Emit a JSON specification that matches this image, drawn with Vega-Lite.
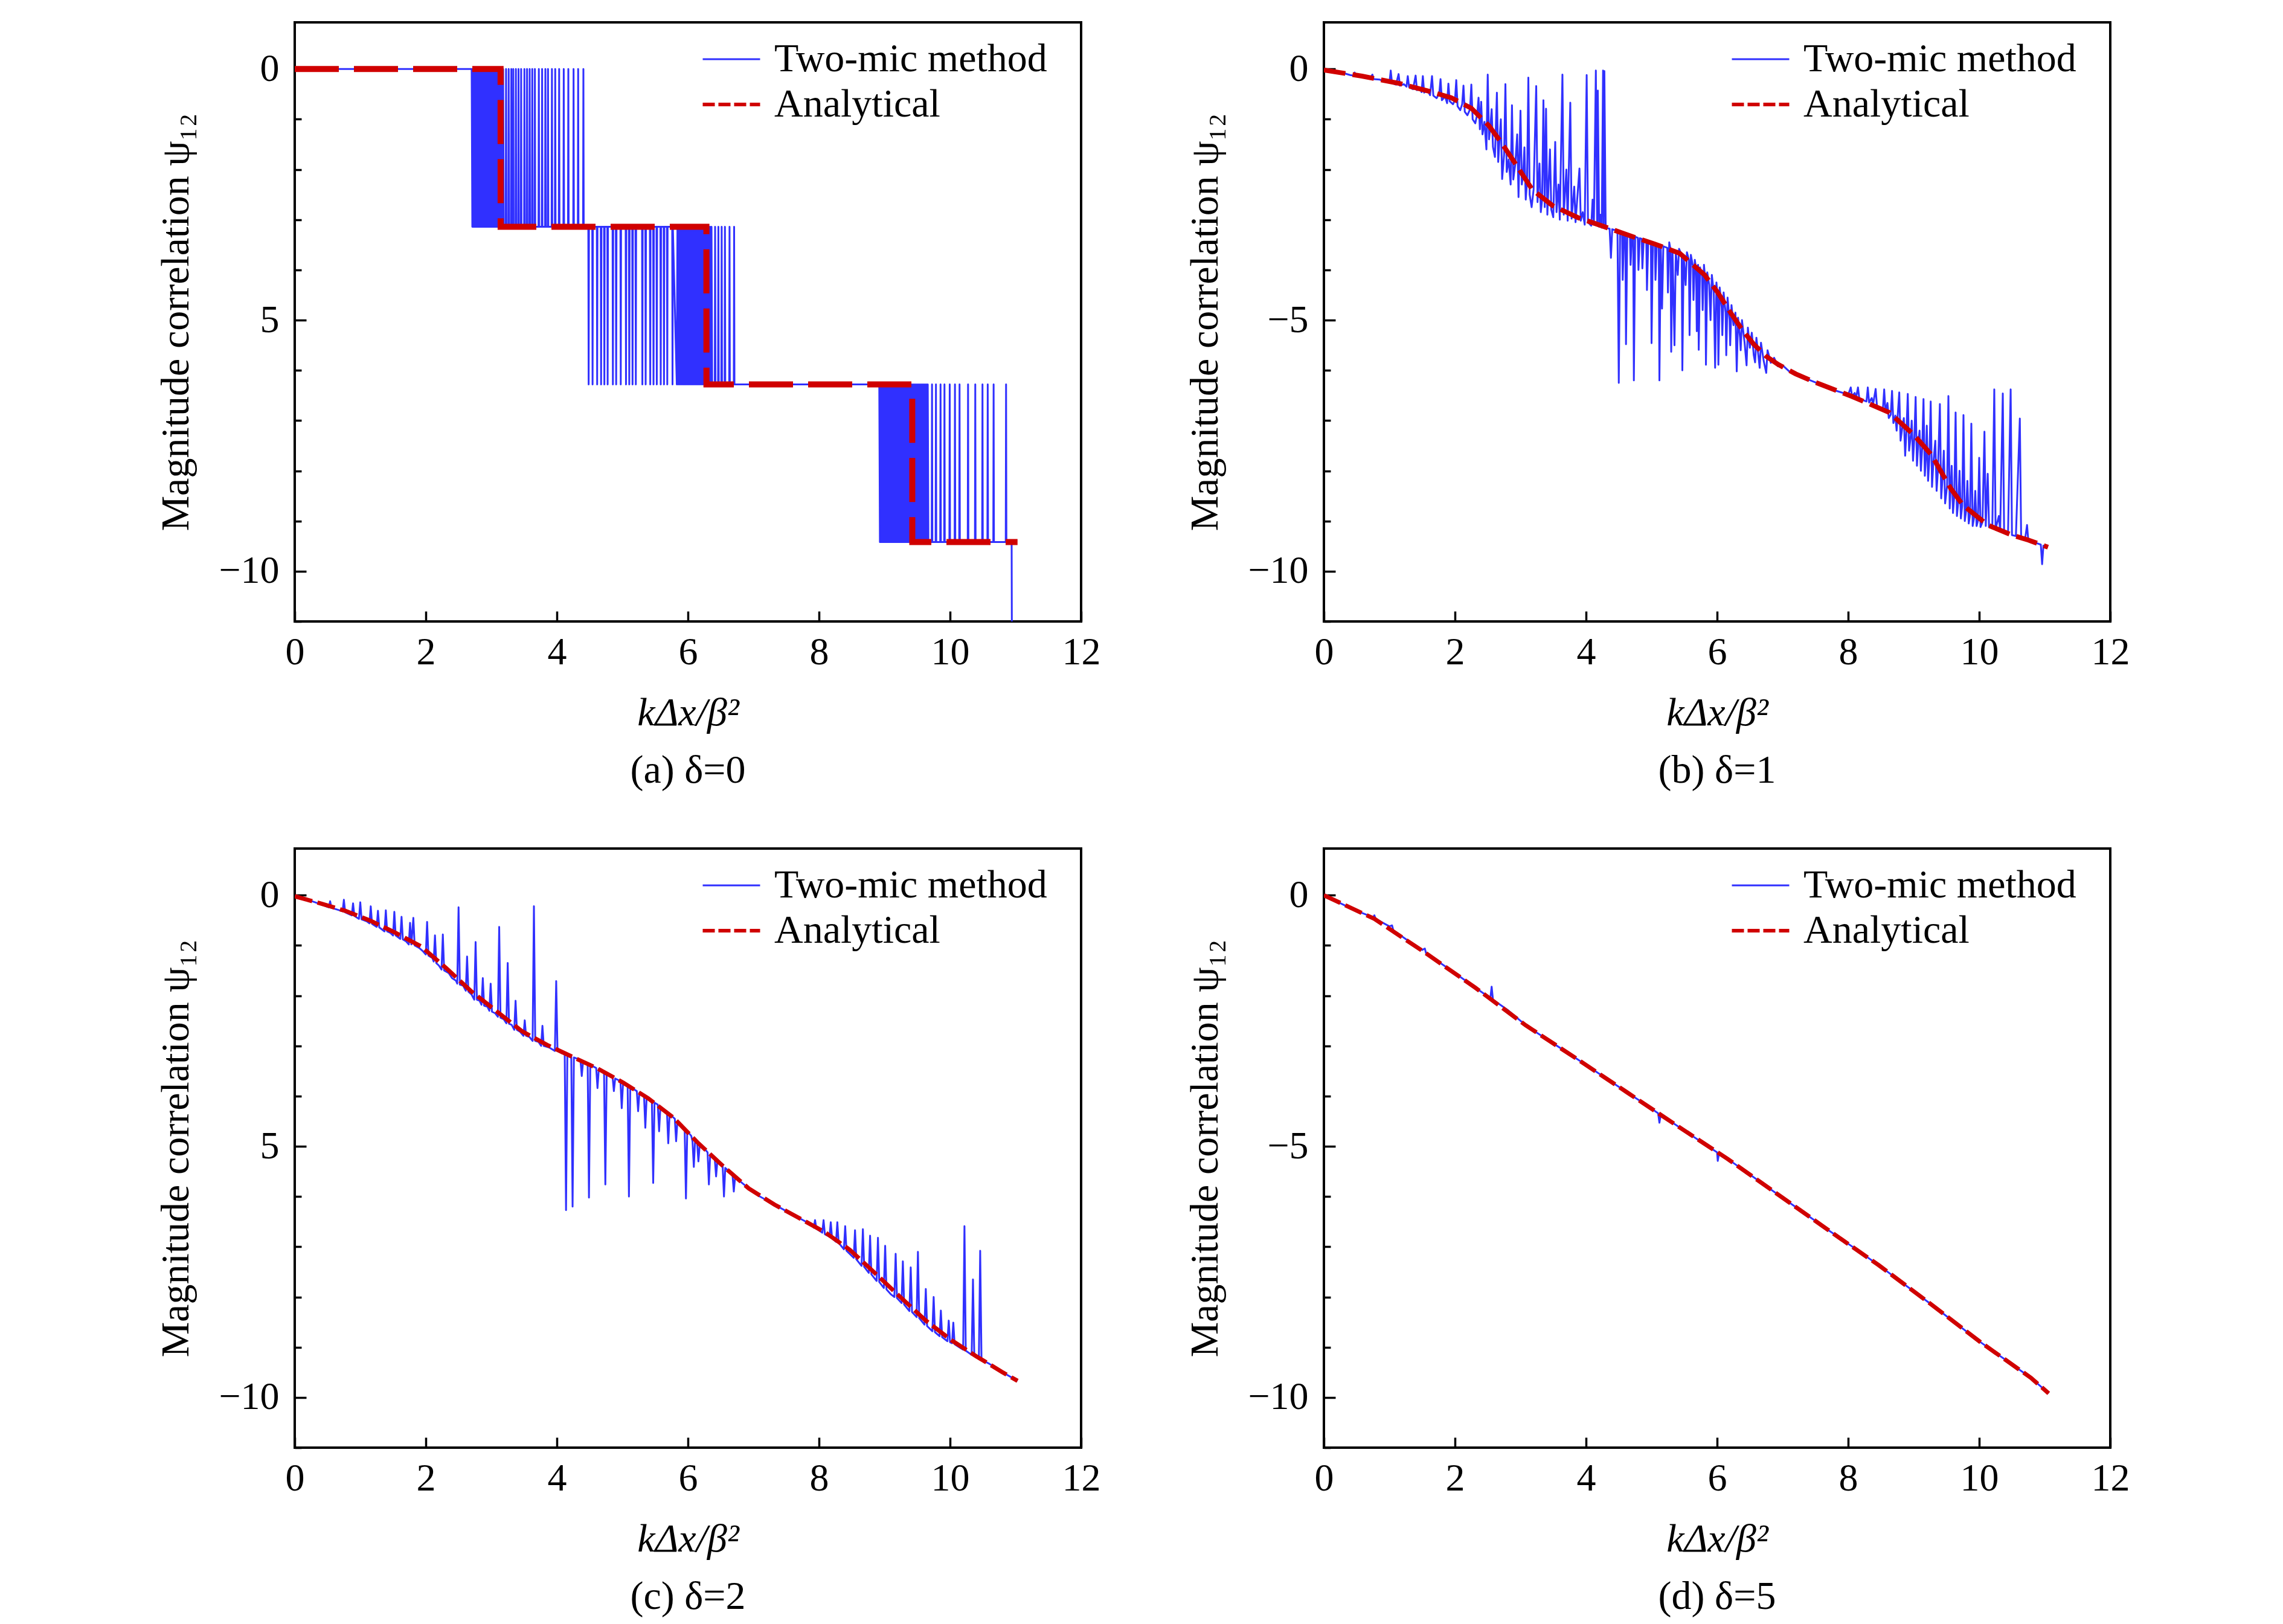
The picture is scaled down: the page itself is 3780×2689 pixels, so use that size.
{
  "$schema": "https://vega.github.io/schema/vega-lite/v6.json",
  "background": "white",
  "padding": {"left": 256, "top": 35, "right": 10, "bottom": 10},
  "config": {
    "font": "Liberation Serif",
    "view": {"stroke": "black", "strokeWidth": 4},
    "axis": {"grid": false, "domain": false, "labelFont": "Liberation Serif", "labelFontSize": 64, "labelColor": "black", "labelFlush": false, "labelOverlap": false, "titleFont": "Liberation Serif", "titleFontSize": 66, "titleFontWeight": "normal", "titleColor": "black", "tickColor": "black", "tickWidth": 3.5},
    "axisX": {"tickSize": -17, "labelPadding": 36, "titlePadding": 36, "titleFontStyle": "italic"},
    "axisY": {"labelPadding": 45, "titlePadding": 36},
    "legend": {"symbolType": "stroke", "symbolSize": 9025, "labelFont": "Liberation Serif", "labelFontSize": 66, "labelColor": "black", "labelOffset": 38, "labelLimit": 1000, "padding": 0},
    "title": {"font": "Liberation Serif", "fontSize": 66, "fontWeight": "normal", "color": "black", "orient": "bottom", "offset": 31}
  },
  "datasets": {
    "aT": [{"x":0,"y":0},{"x":2.7,"y":0},
      {"x":2.71,"y":-3.14},{"x":2.72,"y":0},{"x":2.73,"y":-3.14},{"x":2.74,"y":0},{"x":2.75,"y":-3.14},{"x":2.76,"y":0},{"x":2.77,"y":-3.14},{"x":2.78,"y":0},{"x":2.79,"y":-3.14},{"x":2.8,"y":0},{"x":2.81,"y":-3.14},{"x":2.82,"y":0},{"x":2.83,"y":-3.14},{"x":2.84,"y":0},{"x":2.85,"y":-3.14},{"x":2.86,"y":0},{"x":2.87,"y":-3.14},{"x":2.88,"y":0},{"x":2.89,"y":-3.14},{"x":2.9,"y":0},{"x":2.91,"y":-3.14},{"x":2.92,"y":0},{"x":2.93,"y":-3.14},{"x":2.94,"y":0},{"x":2.95,"y":-3.14},{"x":2.96,"y":0},{"x":2.97,"y":-3.14},{"x":2.98,"y":0},{"x":2.99,"y":-3.14},{"x":3,"y":0},{"x":3.01,"y":-3.14},{"x":3.02,"y":0},{"x":3.03,"y":-3.14},{"x":3.04,"y":0},{"x":3.05,"y":-3.14},{"x":3.06,"y":0},{"x":3.07,"y":-3.14},{"x":3.08,"y":0},{"x":3.09,"y":-3.14},{"x":3.1,"y":0},{"x":3.11,"y":-3.14},{"x":3.12,"y":0},{"x":3.13,"y":-3.14},{"x":3.14,"y":0},{"x":3.15,"y":-3.14},{"x":3.16,"y":0},{"x":3.17,"y":-3.14},{"x":3.18,"y":0},{"x":3.19,"y":-3.14},
      {"x":3.22,"y":-3.14},{"x":3.225,"y":0},{"x":3.23,"y":-3.14},{"x":3.26,"y":-3.14},{"x":3.265,"y":0},{"x":3.27,"y":-3.14},{"x":3.3,"y":-3.14},{"x":3.305,"y":0},{"x":3.31,"y":-3.14},{"x":3.33,"y":-3.14},{"x":3.335,"y":0},{"x":3.34,"y":-3.14},{"x":3.37,"y":-3.14},{"x":3.375,"y":0},{"x":3.38,"y":-3.14},{"x":3.41,"y":-3.14},{"x":3.415,"y":0},{"x":3.42,"y":-3.14},{"x":3.45,"y":-3.14},{"x":3.455,"y":0},{"x":3.46,"y":-3.14},{"x":3.5,"y":-3.14},{"x":3.505,"y":0},{"x":3.51,"y":-3.14},{"x":3.54,"y":-3.14},{"x":3.545,"y":0},{"x":3.55,"y":-3.14},{"x":3.58,"y":-3.14},{"x":3.585,"y":0},{"x":3.59,"y":-3.14},{"x":3.62,"y":-3.14},{"x":3.625,"y":0},{"x":3.63,"y":-3.14},{"x":3.66,"y":-3.14},{"x":3.665,"y":0},{"x":3.67,"y":-3.14},{"x":3.72,"y":-3.14},{"x":3.725,"y":0},{"x":3.73,"y":-3.14},{"x":3.77,"y":-3.14},{"x":3.775,"y":0},{"x":3.78,"y":-3.14},{"x":3.82,"y":-3.14},{"x":3.825,"y":0},{"x":3.83,"y":-3.14},{"x":3.86,"y":-3.14},{"x":3.865,"y":0},{"x":3.87,"y":-3.14},{"x":3.92,"y":-3.14},{"x":3.925,"y":0},{"x":3.93,"y":-3.14},{"x":3.97,"y":-3.14},{"x":3.975,"y":0},{"x":3.98,"y":-3.14},{"x":4.03,"y":-3.14},{"x":4.035,"y":0},{"x":4.04,"y":-3.14},{"x":4.1,"y":-3.14},{"x":4.105,"y":0},{"x":4.11,"y":-3.14},{"x":4.17,"y":-3.14},{"x":4.175,"y":0},{"x":4.18,"y":-3.14},{"x":4.25,"y":-3.14},{"x":4.255,"y":0},{"x":4.26,"y":-3.14},{"x":4.32,"y":-3.14},{"x":4.325,"y":0},{"x":4.33,"y":-3.14},{"x":4.4,"y":-3.14},{"x":4.405,"y":0},{"x":4.41,"y":-3.14},
      {"x":4.48,"y":-3.14},{"x":4.485,"y":-6.28},{"x":4.49,"y":-3.14},{"x":4.54,"y":-3.14},{"x":4.545,"y":-6.28},{"x":4.55,"y":-3.14},{"x":4.61,"y":-3.14},{"x":4.615,"y":-6.28},{"x":4.62,"y":-3.14},{"x":4.67,"y":-3.14},{"x":4.675,"y":-6.28},{"x":4.68,"y":-3.14},{"x":4.72,"y":-3.14},{"x":4.725,"y":-6.28},{"x":4.73,"y":-3.14},{"x":4.77,"y":-3.14},{"x":4.775,"y":-6.28},{"x":4.78,"y":-3.14},{"x":4.85,"y":-3.14},{"x":4.855,"y":-6.28},{"x":4.86,"y":-3.14},{"x":4.9,"y":-3.14},{"x":4.905,"y":-6.28},{"x":4.91,"y":-3.14},{"x":4.97,"y":-3.14},{"x":4.975,"y":-6.28},{"x":4.98,"y":-3.14},{"x":5.05,"y":-3.14},{"x":5.055,"y":-6.28},{"x":5.06,"y":-3.14},{"x":5.1,"y":-3.14},{"x":5.105,"y":-6.28},{"x":5.11,"y":-3.14},{"x":5.15,"y":-3.14},{"x":5.155,"y":-6.28},{"x":5.16,"y":-3.14},{"x":5.2,"y":-3.14},{"x":5.205,"y":-6.28},{"x":5.21,"y":-3.14},{"x":5.3,"y":-3.14},{"x":5.305,"y":-6.28},{"x":5.31,"y":-3.14},{"x":5.35,"y":-3.14},{"x":5.355,"y":-6.28},{"x":5.36,"y":-3.14},{"x":5.42,"y":-3.14},{"x":5.425,"y":-6.28},{"x":5.43,"y":-3.14},{"x":5.47,"y":-3.14},{"x":5.475,"y":-6.28},{"x":5.48,"y":-3.14},{"x":5.52,"y":-3.14},{"x":5.525,"y":-6.28},{"x":5.53,"y":-3.14},{"x":5.58,"y":-3.14},{"x":5.585,"y":-6.28},{"x":5.59,"y":-3.14},{"x":5.63,"y":-3.14},{"x":5.635,"y":-6.28},{"x":5.64,"y":-3.14},{"x":5.68,"y":-3.14},{"x":5.685,"y":-6.28},{"x":5.69,"y":-3.14},{"x":5.76,"y":-3.14},{"x":5.765,"y":-6.28},{"x":5.77,"y":-3.14},
      {"x":5.83,"y":-6.28},{"x":5.84,"y":-3.14},{"x":5.85,"y":-6.28},{"x":5.86,"y":-3.14},{"x":5.87,"y":-6.28},{"x":5.88,"y":-3.14},{"x":5.89,"y":-6.28},{"x":5.9,"y":-3.14},{"x":5.91,"y":-6.28},{"x":5.92,"y":-3.14},{"x":5.93,"y":-6.28},{"x":5.94,"y":-3.14},{"x":5.95,"y":-6.28},{"x":5.96,"y":-3.14},{"x":5.97,"y":-6.28},{"x":5.98,"y":-3.14},{"x":5.99,"y":-6.28},{"x":6,"y":-3.14},{"x":6.01,"y":-6.28},{"x":6.02,"y":-3.14},{"x":6.03,"y":-6.28},{"x":6.04,"y":-3.14},{"x":6.05,"y":-6.28},{"x":6.06,"y":-3.14},{"x":6.07,"y":-6.28},{"x":6.08,"y":-3.14},{"x":6.09,"y":-6.28},{"x":6.1,"y":-3.14},{"x":6.11,"y":-6.28},{"x":6.12,"y":-3.14},{"x":6.13,"y":-6.28},{"x":6.14,"y":-3.14},{"x":6.15,"y":-6.28},{"x":6.16,"y":-3.14},{"x":6.17,"y":-6.28},{"x":6.18,"y":-3.14},{"x":6.19,"y":-6.28},{"x":6.2,"y":-3.14},{"x":6.21,"y":-6.28},{"x":6.22,"y":-3.14},{"x":6.23,"y":-6.28},{"x":6.24,"y":-3.14},{"x":6.25,"y":-6.28},{"x":6.26,"y":-3.14},{"x":6.27,"y":-6.28},{"x":6.28,"y":-3.14},{"x":6.29,"y":-6.28},{"x":6.3,"y":-3.14},{"x":6.31,"y":-6.28},{"x":6.32,"y":-3.14},{"x":6.33,"y":-6.28},{"x":6.34,"y":-3.14},{"x":6.35,"y":-6.28},{"x":6.36,"y":-3.14},{"x":6.37,"y":-6.28},
      {"x":6.41,"y":-6.28},{"x":6.415,"y":-3.14},{"x":6.42,"y":-6.28},{"x":6.46,"y":-6.28},{"x":6.465,"y":-3.14},{"x":6.47,"y":-6.28},{"x":6.51,"y":-6.28},{"x":6.515,"y":-3.14},{"x":6.52,"y":-6.28},{"x":6.56,"y":-6.28},{"x":6.565,"y":-3.14},{"x":6.57,"y":-6.28},{"x":6.63,"y":-6.28},{"x":6.635,"y":-3.14},{"x":6.64,"y":-6.28},{"x":6.7,"y":-6.28},{"x":6.705,"y":-3.14},{"x":6.71,"y":-6.28},{"x":8.92,"y":-6.28},
      {"x":8.93,"y":-9.42},{"x":8.94,"y":-6.28},{"x":8.95,"y":-9.42},{"x":8.96,"y":-6.28},{"x":8.97,"y":-9.42},{"x":8.98,"y":-6.28},{"x":8.99,"y":-9.42},{"x":9,"y":-6.28},{"x":9.01,"y":-9.42},{"x":9.02,"y":-6.28},{"x":9.03,"y":-9.42},{"x":9.04,"y":-6.28},{"x":9.05,"y":-9.42},{"x":9.06,"y":-6.28},{"x":9.07,"y":-9.42},{"x":9.08,"y":-6.28},{"x":9.09,"y":-9.42},{"x":9.1,"y":-6.28},{"x":9.11,"y":-9.42},{"x":9.12,"y":-6.28},{"x":9.13,"y":-9.42},{"x":9.14,"y":-6.28},{"x":9.15,"y":-9.42},{"x":9.16,"y":-6.28},{"x":9.17,"y":-9.42},{"x":9.18,"y":-6.28},{"x":9.19,"y":-9.42},{"x":9.2,"y":-6.28},{"x":9.21,"y":-9.42},{"x":9.22,"y":-6.28},{"x":9.23,"y":-9.42},{"x":9.24,"y":-6.28},{"x":9.25,"y":-9.42},{"x":9.26,"y":-6.28},{"x":9.27,"y":-9.42},{"x":9.28,"y":-6.28},{"x":9.29,"y":-9.42},{"x":9.3,"y":-6.28},{"x":9.31,"y":-9.42},{"x":9.32,"y":-6.28},{"x":9.33,"y":-9.42},{"x":9.34,"y":-6.28},{"x":9.35,"y":-9.42},{"x":9.36,"y":-6.28},{"x":9.37,"y":-9.42},{"x":9.38,"y":-6.28},{"x":9.39,"y":-9.42},{"x":9.4,"y":-6.28},{"x":9.41,"y":-9.42},{"x":9.42,"y":-6.28},{"x":9.43,"y":-9.42},{"x":9.44,"y":-6.28},{"x":9.45,"y":-9.42},{"x":9.46,"y":-6.28},{"x":9.47,"y":-9.42},{"x":9.48,"y":-6.28},{"x":9.49,"y":-9.42},{"x":9.5,"y":-6.28},{"x":9.51,"y":-9.42},{"x":9.52,"y":-6.28},{"x":9.53,"y":-9.42},{"x":9.54,"y":-6.28},{"x":9.55,"y":-9.42},{"x":9.56,"y":-6.28},{"x":9.57,"y":-9.42},{"x":9.58,"y":-6.28},{"x":9.59,"y":-9.42},{"x":9.6,"y":-6.28},{"x":9.61,"y":-9.42},{"x":9.62,"y":-6.28},{"x":9.63,"y":-9.42},{"x":9.64,"y":-6.28},{"x":9.65,"y":-9.42},{"x":9.66,"y":-6.28},{"x":9.67,"y":-9.42},
      {"x":9.72,"y":-9.42},{"x":9.725,"y":-6.28},{"x":9.73,"y":-9.42},{"x":9.78,"y":-9.42},{"x":9.785,"y":-6.28},{"x":9.79,"y":-9.42},{"x":9.85,"y":-9.42},{"x":9.855,"y":-6.28},{"x":9.86,"y":-9.42},{"x":9.91,"y":-9.42},{"x":9.915,"y":-6.28},{"x":9.92,"y":-9.42},{"x":9.99,"y":-9.42},{"x":9.995,"y":-6.28},{"x":10,"y":-9.42},{"x":10.07,"y":-9.42},{"x":10.075,"y":-6.28},{"x":10.08,"y":-9.42},{"x":10.14,"y":-9.42},{"x":10.145,"y":-6.28},{"x":10.15,"y":-9.42},{"x":10.27,"y":-9.42},{"x":10.275,"y":-6.28},{"x":10.28,"y":-9.42},{"x":10.38,"y":-9.42},{"x":10.385,"y":-6.28},{"x":10.39,"y":-9.42},{"x":10.49,"y":-9.42},{"x":10.495,"y":-6.28},{"x":10.5,"y":-9.42},{"x":10.57,"y":-9.42},{"x":10.575,"y":-6.28},{"x":10.58,"y":-9.42},{"x":10.66,"y":-9.42},{"x":10.665,"y":-6.28},{"x":10.67,"y":-9.42},{"x":10.85,"y":-9.42},{"x":10.855,"y":-6.28},{"x":10.86,"y":-9.42},{"x":10.94,"y":-9.42},{"x":10.945,"y":-12}],
    "aA": [{"x":0,"y":0},{"x":3.141,"y":0},{"x":3.142,"y":-3.14},{"x":6.282,"y":-3.14},{"x":6.283,"y":-6.28},{"x":9.423,"y":-6.28},{"x":9.424,"y":-9.42},{"x":11.03,"y":-9.42}],
    "bT": [{"x":0,"y":-0.02},{"x":0.1,"y":-0.04},{"x":0.2,"y":-0.06},{"x":0.3,"y":-0.08},{"x":0.4,"y":-0.12},{"x":0.45,"y":-0.13},{"x":0.47,"y":-0.07},{"x":0.49,"y":-0.14},{"x":0.6,"y":-0.16},{"x":0.7,"y":-0.19},{"x":0.74,"y":-0.11},{"x":0.76,"y":-0.2},{"x":0.85,"y":-0.21},{"x":0.95,"y":-0.25},{"x":1,"y":-0.27},{"x":1.02,"y":-0.03},{"x":1.04,"y":-0.28},{"x":1.1,"y":-0.31},{"x":1.14,"y":-0.1},{"x":1.16,"y":-0.33},{"x":1.22,"y":-0.3},{"x":1.26,"y":-0.35},{"x":1.28,"y":-0.14},{"x":1.3,"y":-0.36},{"x":1.36,"y":-0.4},{"x":1.4,"y":-0.13},{"x":1.42,"y":-0.42},{"x":1.47,"y":-0.38},{"x":1.49,"y":-0.46},{"x":1.51,"y":-0.14},{"x":1.53,"y":-0.47},{"x":1.58,"y":-0.42},{"x":1.62,"y":-0.52},{"x":1.65,"y":-0.14},{"x":1.67,"y":-0.53},{"x":1.72,"y":-0.58},{"x":1.76,"y":-0.49},{"x":1.78,"y":-0.2},{"x":1.8,"y":-0.62},{"x":1.85,"y":-0.55},{"x":1.88,"y":-0.68},{"x":1.9,"y":-0.29},{"x":1.92,"y":-0.64},{"x":1.97,"y":-0.7},{"x":2,"y":-0.62},{"x":2.02,"y":-0.22},{"x":2.04,"y":-0.74},{"x":2.08,"y":-0.82},{"x":2.11,"y":-0.7},{"x":2.13,"y":-0.33},{"x":2.15,"y":-0.85},{"x":2.19,"y":-0.92},{"x":2.23,"y":-0.8},{"x":2.25,"y":-0.31},{"x":2.27,"y":-1},{"x":2.31,"y":-1.08},{"x":2.34,"y":-0.9},{"x":2.36,"y":-0.57},{"x":2.38,"y":-1.2},{"x":2.4,"y":-0.65},{"x":2.42,"y":-1.3},{"x":2.45,"y":-1.05},{"x":2.48,"y":-1.6},{"x":2.5,"y":-0.11},{"x":2.52,"y":-1.4},{"x":2.54,"y":-1.15},{"x":2.56,"y":-0.8},{"x":2.58,"y":-1.55},{"x":2.61,"y":-1.75},{"x":2.64,"y":-0.47},{"x":2.66,"y":-1.85},{"x":2.68,"y":-1.4},{"x":2.7,"y":-1},{"x":2.72,"y":-2.19},{"x":2.75,"y":-1.7},{"x":2.77,"y":-0.3},{"x":2.79,"y":-2.05},{"x":2.82,"y":-1.8},{"x":2.85,"y":-2.3},{"x":2.87,"y":-0.72},{"x":2.89,"y":-2.2},{"x":2.92,"y":-1.9},{"x":2.95,"y":-1.3},{"x":2.97,"y":-2.55},{"x":3,"y":-0.83},{"x":3.02,"y":-2.3},{"x":3.04,"y":-2.1},{"x":3.06,"y":-1.56},{"x":3.08,"y":-2.6},{"x":3.1,"y":-2.25},{"x":3.12,"y":-0.17},{"x":3.14,"y":-2.5},{"x":3.17,"y":-2.75},{"x":3.2,"y":-2.4},{"x":3.24,"y":-0.34},{"x":3.26,"y":-2.65},{"x":3.29,"y":-1.88},{"x":3.31,"y":-2.85},{"x":3.33,"y":-2.6},{"x":3.35,"y":-0.62},{"x":3.37,"y":-2.75},{"x":3.39,"y":-0.79},{"x":3.41,"y":-2.9},{"x":3.45,"y":-1.6},{"x":3.47,"y":-2.8},{"x":3.5,"y":-2.95},{"x":3.53,"y":-1.45},{"x":3.55,"y":-2.85},{"x":3.58,"y":-2.3},{"x":3.6,"y":-3},{"x":3.64,"y":-0.11},{"x":3.66,"y":-2.9},{"x":3.7,"y":-2},{"x":3.72,"y":-3.02},{"x":3.76,"y":-0.67},{"x":3.78,"y":-2.98},{"x":3.82,"y":-2.34},{"x":3.84,"y":-3.05},{"x":3.9,"y":-1.98},{"x":3.92,"y":-3.02},{"x":3.95,"y":-2.85},{"x":3.98,"y":-3.1},{"x":4.01,"y":-0.12},{"x":4.03,"y":-3.05},{"x":4.08,"y":-3.12},{"x":4.1,"y":-2.6},{"x":4.12,"y":-3.1},{"x":4.15,"y":-0.03},{"x":4.17,"y":-3.12},{"x":4.18,"y":-0.43},{"x":4.2,"y":-3.14},{"x":4.22,"y":-2.9},{"x":4.24,"y":-3.16},{"x":4.26,"y":-0.03},{"x":4.27,"y":-3.14},{"x":4.28,"y":-0.04},{"x":4.3,"y":-3.16},
      {"x":4.36,"y":-3.18},{"x":4.38,"y":-3.76},{"x":4.4,"y":-3.19},{"x":4.48,"y":-3.22},{"x":4.5,"y":-6.25},{"x":4.52,"y":-3.24},{"x":4.55,"y":-3.25},{"x":4.56,"y":-4.2},{"x":4.58,"y":-3.27},{"x":4.6,"y":-3.28},{"x":4.61,"y":-5.48},{"x":4.63,"y":-3.29},{"x":4.67,"y":-3.31},{"x":4.68,"y":-3.9},{"x":4.7,"y":-3.32},{"x":4.72,"y":-3.33},{"x":4.73,"y":-6.2},{"x":4.75,"y":-3.34},{"x":4.79,"y":-3.36},{"x":4.8,"y":-4},{"x":4.82,"y":-3.37},{"x":4.85,"y":-3.38},{"x":4.86,"y":-3.97},{"x":4.88,"y":-3.4},{"x":4.92,"y":-3.41},{"x":4.93,"y":-4.4},{"x":4.95,"y":-3.43},{"x":4.99,"y":-3.44},{"x":5,"y":-5.46},{"x":5.02,"y":-3.46},{"x":5.05,"y":-3.47},{"x":5.06,"y":-4.2},{"x":5.08,"y":-3.49},{"x":5.11,"y":-3.5},{"x":5.12,"y":-6.2},{"x":5.14,"y":-3.51},{"x":5.16,"y":-4.77},{"x":5.18,"y":-3.53},{"x":5.24,"y":-3.56},{"x":5.25,"y":-4.45},{"x":5.27,"y":-3.45},{"x":5.29,"y":-3.6},{"x":5.3,"y":-5.63},{"x":5.32,"y":-3.61},{"x":5.35,"y":-5.5},{"x":5.37,"y":-3.63},{"x":5.4,"y":-4.1},{"x":5.42,"y":-3.58},{"x":5.46,"y":-3.7},{"x":5.47,"y":-6},{"x":5.49,"y":-3.72},{"x":5.52,"y":-4.3},{"x":5.54,"y":-3.65},{"x":5.57,"y":-3.8},{"x":5.58,"y":-5.3},{"x":5.6,"y":-3.7},{"x":5.63,"y":-3.92},{"x":5.64,"y":-4.6},{"x":5.66,"y":-3.8},{"x":5.68,"y":-3.98},{"x":5.69,"y":-5.22},{"x":5.71,"y":-3.9},{"x":5.72,"y":-5.59},{"x":5.74,"y":-3.95},{"x":5.77,"y":-4.12},{"x":5.78,"y":-4.8},{"x":5.8,"y":-3.9},{"x":5.82,"y":-4.2},{"x":5.83,"y":-5.89},{"x":5.85,"y":-4.05},{"x":5.88,"y":-4.3},{"x":5.9,"y":-5},{"x":5.92,"y":-4.1},{"x":5.95,"y":-4.45},{"x":5.97,"y":-5.95},{"x":5.99,"y":-4.25},{"x":6.01,"y":-4.6},{"x":6.02,"y":-5.89},{"x":6.04,"y":-4.35},{"x":6.07,"y":-4.75},{"x":6.08,"y":-5.3},{"x":6.1,"y":-4.45},{"x":6.13,"y":-4.85},{"x":6.14,"y":-5.7},{"x":6.16,"y":-4.55},{"x":6.19,"y":-5},{"x":6.2,"y":-5.5},{"x":6.22,"y":-4.7},{"x":6.25,"y":-5.1},{"x":6.28,"y":-4.85},{"x":6.3,"y":-6.02},{"x":6.32,"y":-4.95},{"x":6.35,"y":-5.35},{"x":6.36,"y":-5.6},{"x":6.38,"y":-5},{"x":6.42,"y":-5.45},{"x":6.45,"y":-5.9},{"x":6.47,"y":-5.15},{"x":6.5,"y":-5.55},{"x":6.53,"y":-5.25},{"x":6.56,"y":-5.7},{"x":6.58,"y":-5.84},{"x":6.6,"y":-5.35},{"x":6.63,"y":-5.7},{"x":6.65,"y":-5.95},{"x":6.67,"y":-5.45},{"x":6.71,"y":-5.8},{"x":6.75,"y":-6.05},{"x":6.77,"y":-5.6},{"x":6.82,"y":-5.85},{"x":6.87,"y":-5.75},{"x":6.93,"y":-5.92},{"x":7,"y":-5.9},{"x":7.1,"y":-6.02},{"x":7.2,"y":-6.07},{"x":7.35,"y":-6.16},{"x":7.5,"y":-6.24},{"x":7.65,"y":-6.32},{"x":7.8,"y":-6.4},{"x":7.95,"y":-6.46},
      {"x":8,"y":-6.49},{"x":8.04,"y":-6.34},{"x":8.06,"y":-6.52},{"x":8.1,"y":-6.45},{"x":8.12,"y":-6.55},{"x":8.15,"y":-6.34},{"x":8.17,"y":-6.56},{"x":8.28,"y":-6.62},{"x":8.3,"y":-6.34},{"x":8.32,"y":-6.64},{"x":8.36,"y":-6.55},{"x":8.38,"y":-6.68},{"x":8.42,"y":-6.37},{"x":8.44,"y":-6.72},{"x":8.53,"y":-6.78},{"x":8.55,"y":-6.38},{"x":8.57,"y":-6.82},{"x":8.6,"y":-6.65},{"x":8.62,"y":-6.95},{"x":8.65,"y":-6.88},{"x":8.67,"y":-6.41},{"x":8.69,"y":-7.05},{"x":8.72,"y":-6.9},{"x":8.74,"y":-7.2},{"x":8.78,"y":-6.44},{"x":8.8,"y":-7.4},{"x":8.83,"y":-7.1},{"x":8.85,"y":-6.95},{"x":8.87,"y":-7.7},{"x":8.89,"y":-7.2},{"x":8.91,"y":-6.47},{"x":8.93,"y":-7.6},{"x":8.96,"y":-7.25},{"x":8.97,"y":-7},{"x":8.99,"y":-7.8},{"x":9.01,"y":-7.35},{"x":9.03,"y":-6.53},{"x":9.05,"y":-7.9},{"x":9.07,"y":-7.45},{"x":9.09,"y":-7.2},{"x":9.11,"y":-8},{"x":9.13,"y":-7.55},{"x":9.15,"y":-6.57},{"x":9.17,"y":-8.1},{"x":9.19,"y":-7.65},{"x":9.2,"y":-7.1},{"x":9.22,"y":-8.2},{"x":9.24,"y":-7.75},{"x":9.26,"y":-6.62},{"x":9.28,"y":-8.32},{"x":9.3,"y":-7.85},{"x":9.33,"y":-7.4},{"x":9.35,"y":-8.4},{"x":9.37,"y":-8},{"x":9.4,"y":-6.67},{"x":9.42,"y":-8.55},{"x":9.44,"y":-8.15},{"x":9.46,"y":-7.6},{"x":9.48,"y":-8.65},{"x":9.51,"y":-8.3},{"x":9.53,"y":-6.51},{"x":9.55,"y":-8.75},{"x":9.58,"y":-7.9},{"x":9.6,"y":-8.84},{"x":9.62,"y":-8.5},{"x":9.64,"y":-6.84},{"x":9.66,"y":-8.9},{"x":9.68,"y":-8.62},{"x":9.7,"y":-8},{"x":9.72,"y":-8.95},{"x":9.74,"y":-8.7},{"x":9.76,"y":-6.89},{"x":9.78,"y":-9},{"x":9.8,"y":-8.8},{"x":9.82,"y":-8.2},{"x":9.84,"y":-9.05},{"x":9.86,"y":-8.88},{"x":9.88,"y":-7.06},{"x":9.9,"y":-9.1},{"x":9.92,"y":-8.95},{"x":9.94,"y":-8.4},{"x":9.96,"y":-9.1},{"x":9.98,"y":-9},{"x":10,"y":-7.74},{"x":10.02,"y":-9.12},{"x":10.05,"y":-9.02},{"x":10.08,"y":-7.22},{"x":10.1,"y":-9.1},{"x":10.13,"y":-8.06},{"x":10.15,"y":-9.12},{"x":10.2,"y":-9.14},{"x":10.23,"y":-6.38},{"x":10.25,"y":-9.16},{"x":10.3,"y":-8.9},{"x":10.32,"y":-9.2},{"x":10.36,"y":-6.46},{"x":10.38,"y":-9.22},{"x":10.44,"y":-9.24},{"x":10.48,"y":-6.38},{"x":10.5,"y":-9.28},{"x":10.56,"y":-9.3},{"x":10.62,"y":-6.96},{"x":10.64,"y":-9.33},{"x":10.7,"y":-9.36},{"x":10.73,"y":-9.08},{"x":10.75,"y":-9.4},{"x":10.85,"y":-9.43},{"x":10.94,"y":-9.47},{"x":10.96,"y":-9.86},{"x":10.98,"y":-9.49},{"x":11.05,"y":-9.52}],
    "bA": [{"x":0,"y":-0.02},{"x":0.58,"y":-0.14},{"x":1.16,"y":-0.29},{"x":1.63,"y":-0.45},{"x":1.94,"y":-0.57},{"x":2.25,"y":-0.78},{"x":2.52,"y":-1.13},{"x":2.71,"y":-1.47},{"x":2.91,"y":-1.86},{"x":3.18,"y":-2.4},{"x":3.49,"y":-2.72},{"x":3.88,"y":-2.96},{"x":4.26,"y":-3.13},{"x":4.65,"y":-3.31},{"x":5.04,"y":-3.48},{"x":5.43,"y":-3.67},{"x":5.81,"y":-4.1},{"x":6.01,"y":-4.45},{"x":6.22,"y":-4.88},{"x":6.4,"y":-5.22},{"x":6.56,"y":-5.48},{"x":6.75,"y":-5.72},{"x":6.93,"y":-5.88},{"x":7.2,"y":-6.07},{"x":7.5,"y":-6.24},{"x":8.06,"y":-6.52},{"x":8.63,"y":-6.84},{"x":9,"y":-7.28},{"x":9.27,"y":-7.68},{"x":9.57,"y":-8.36},{"x":9.75,"y":-8.68},{"x":10.13,"y":-9.08},{"x":10.5,"y":-9.28},{"x":10.75,"y":-9.38},{"x":11.05,"y":-9.52}],
    "cT": [{"x":0,"y":-0.02},{"x":0.2,"y":-0.09},{"x":0.4,"y":-0.18},{"x":0.52,"y":-0.24},{"x":0.54,"y":-0.12},{"x":0.56,"y":-0.25},{"x":0.73,"y":-0.32},{"x":0.75,"y":-0.09},{"x":0.77,"y":-0.34},{"x":0.87,"y":-0.4},{"x":0.89,"y":-0.16},{"x":0.91,"y":-0.41},{"x":0.98,"y":-0.47},{"x":1,"y":-0.14},{"x":1.02,"y":-0.48},{"x":1.1,"y":-0.52},{"x":1.14,"y":-0.56},{"x":1.16,"y":-0.22},{"x":1.18,"y":-0.57},{"x":1.25,"y":-0.63},{"x":1.27,"y":-0.31},{"x":1.29,"y":-0.64},{"x":1.37,"y":-0.72},{"x":1.39,"y":-0.3},{"x":1.41,"y":-0.72},{"x":1.46,"y":-0.75},{"x":1.5,"y":-0.8},{"x":1.52,"y":-0.33},{"x":1.54,"y":-0.8},{"x":1.61,"y":-0.87},{"x":1.63,"y":-0.43},{"x":1.65,"y":-0.88},{"x":1.7,"y":-0.92},{"x":1.74,"y":-0.98},{"x":1.76,"y":-0.55},{"x":1.78,"y":-0.98},{"x":1.81,"y":-0.45},{"x":1.83,"y":-1},{"x":1.9,"y":-1.05},{"x":1.96,"y":-1.12},{"x":2,"y":-1.18},{"x":2.02,"y":-0.53},{"x":2.04,"y":-1.2},{"x":2.1,"y":-1.25},{"x":2.12,"y":-1.32},{"x":2.14,"y":-0.8},{"x":2.16,"y":-1.35},{"x":2.2,"y":-1.4},{"x":2.24,"y":-1.48},{"x":2.26,"y":-0.78},{"x":2.28,"y":-1.5},{"x":2.35,"y":-1.55},{"x":2.4,"y":-1.65},{"x":2.46,"y":-1.7},{"x":2.48,"y":-1.76},{"x":2.5,"y":-0.24},{"x":2.52,"y":-1.78},{"x":2.57,"y":-1.8},{"x":2.61,"y":-1.9},{"x":2.63,"y":-1.22},{"x":2.65,"y":-1.92},{"x":2.7,"y":-1.98},{"x":2.74,"y":-2.08},{"x":2.76,"y":-0.93},{"x":2.78,"y":-2.08},{"x":2.82,"y":-2.1},{"x":2.85,"y":-2.18},{"x":2.87,"y":-1.65},{"x":2.89,"y":-2.2},{"x":2.94,"y":-2.22},{"x":2.97,"y":-2.3},{"x":2.99,"y":-1.76},{"x":3.01,"y":-2.32},{"x":3.06,"y":-2.35},{"x":3.1,"y":-2.42},{"x":3.12,"y":-0.63},{"x":3.14,"y":-2.44},{"x":3.19,"y":-2.47},{"x":3.23,"y":-2.55},{"x":3.25,"y":-1.35},{"x":3.27,"y":-2.56},{"x":3.31,"y":-2.58},{"x":3.35,"y":-2.68},{"x":3.37,"y":-2.1},{"x":3.39,"y":-2.68},{"x":3.44,"y":-2.72},{"x":3.49,"y":-2.8},{"x":3.51,"y":-2.49},{"x":3.53,"y":-2.8},{"x":3.58,"y":-2.82},{"x":3.63,"y":-2.9},{"x":3.65,"y":-0.22},{"x":3.67,"y":-2.9},{"x":3.72,"y":-2.92},{"x":3.76,"y":-3},{"x":3.78,"y":-2.6},{"x":3.8,"y":-3},{"x":3.88,"y":-3.03},{"x":3.97,"y":-3.1},{"x":3.99,"y":-1.71},{"x":4.01,"y":-3.1},{"x":4.08,"y":-3.15},
      {"x":4.12,"y":-3.16},{"x":4.14,"y":-6.27},{"x":4.16,"y":-3.17},{"x":4.22,"y":-3.21},{"x":4.24,"y":-6.2},{"x":4.26,"y":-3.23},{"x":4.36,"y":-3.28},{"x":4.38,"y":-3.6},{"x":4.4,"y":-3.31},{"x":4.47,"y":-3.36},{"x":4.49,"y":-6.02},{"x":4.51,"y":-3.38},{"x":4.6,"y":-3.44},{"x":4.62,"y":-3.84},{"x":4.64,"y":-3.46},{"x":4.72,"y":-3.52},{"x":4.74,"y":-5.76},{"x":4.76,"y":-3.55},{"x":4.85,"y":-3.61},{"x":4.87,"y":-3.9},{"x":4.89,"y":-3.65},{"x":4.97,"y":-3.7},{"x":4.99,"y":-4.24},{"x":5.01,"y":-3.74},{"x":5.08,"y":-3.79},{"x":5.1,"y":-6},{"x":5.12,"y":-3.82},{"x":5.22,"y":-3.9},{"x":5.24,"y":-4.3},{"x":5.26,"y":-3.93},{"x":5.33,"y":-3.99},{"x":5.35,"y":-4.63},{"x":5.37,"y":-4.02},{"x":5.45,"y":-4.09},{"x":5.47,"y":-5.73},{"x":5.49,"y":-4.13},{"x":5.54,"y":-4.17},{"x":5.56,"y":-4.7},{"x":5.58,"y":-4.22},{"x":5.64,"y":-4.27},{"x":5.68,"y":-4.32},{"x":5.7,"y":-4.94},{"x":5.72,"y":-4.36},{"x":5.8,"y":-4.45},{"x":5.82,"y":-4.9},{"x":5.84,"y":-4.5},{"x":5.9,"y":-4.58},{"x":5.95,"y":-4.64},{"x":5.97,"y":-6.04},{"x":5.99,"y":-4.7},{"x":6.05,"y":-4.79},{"x":6.07,"y":-4.9},{"x":6.09,"y":-5.41},{"x":6.11,"y":-4.87},{"x":6.14,"y":-4.92},{"x":6.16,"y":-5.3},{"x":6.18,"y":-4.97},{"x":6.26,"y":-5.06},{"x":6.3,"y":-5.12},{"x":6.32,"y":-5.76},{"x":6.34,"y":-5.16},{"x":6.41,"y":-5.25},{"x":6.43,"y":-5.6},{"x":6.45,"y":-5.29},{"x":6.53,"y":-5.39},{"x":6.55,"y":-6},{"x":6.57,"y":-5.43},{"x":6.68,"y":-5.56},{"x":6.7,"y":-5.9},{"x":6.72,"y":-5.61},{"x":6.8,"y":-5.7},{"x":6.93,"y":-5.84},{"x":7.1,"y":-6},{"x":7.32,"y":-6.16},{"x":7.5,"y":-6.29},{"x":7.7,"y":-6.43},{"x":7.9,"y":-6.57},
      {"x":7.92,"y":-6.62},{"x":7.94,"y":-6.47},{"x":7.96,"y":-6.64},{"x":8.05,"y":-6.72},{"x":8.07,"y":-6.47},{"x":8.09,"y":-6.75},{"x":8.16,"y":-6.8},{"x":8.18,"y":-6.51},{"x":8.2,"y":-6.83},{"x":8.26,"y":-6.9},{"x":8.28,"y":-6.51},{"x":8.3,"y":-6.92},{"x":8.38,"y":-7.05},{"x":8.4,"y":-6.59},{"x":8.42,"y":-7.08},{"x":8.53,"y":-7.22},{"x":8.55,"y":-6.67},{"x":8.57,"y":-7.25},{"x":8.65,"y":-7.38},{"x":8.67,"y":-6.65},{"x":8.69,"y":-7.4},{"x":8.76,"y":-7.52},{"x":8.78,"y":-6.78},{"x":8.8,"y":-7.55},{"x":8.88,"y":-7.68},{"x":8.9,"y":-6.82},{"x":8.92,"y":-7.7},{"x":8.99,"y":-7.82},{"x":9.01,"y":-6.98},{"x":9.03,"y":-7.85},{"x":9.1,"y":-7.95},{"x":9.15,"y":-8},{"x":9.17,"y":-7.14},{"x":9.19,"y":-8.02},{"x":9.26,"y":-8.12},{"x":9.28,"y":-7.29},{"x":9.3,"y":-8.15},{"x":9.38,"y":-8.28},{"x":9.4,"y":-7.41},{"x":9.42,"y":-8.3},{"x":9.49,"y":-8.4},{"x":9.51,"y":-7.1},{"x":9.53,"y":-8.42},{"x":9.61,"y":-8.55},{"x":9.63,"y":-7.84},{"x":9.65,"y":-8.58},{"x":9.73,"y":-8.68},{"x":9.75,"y":-8},{"x":9.77,"y":-8.7},{"x":9.84,"y":-8.78},{"x":9.86,"y":-8.27},{"x":9.88,"y":-8.8},{"x":9.96,"y":-8.88},{"x":9.98,"y":-8.47},{"x":10,"y":-8.9},{"x":10.03,"y":-8.92},{"x":10.05,"y":-8.51},{"x":10.07,"y":-8.94},{"x":10.14,"y":-9},{"x":10.2,"y":-9.05},{"x":10.22,"y":-6.59},{"x":10.24,"y":-9.07},{"x":10.33,"y":-9.15},{"x":10.35,"y":-7.65},{"x":10.37,"y":-9.17},{"x":10.44,"y":-9.22},{"x":10.46,"y":-7.08},{"x":10.48,"y":-9.25},{"x":10.6,"y":-9.33},{"x":10.79,"y":-9.49},{"x":11.03,"y":-9.67}],
    "cA": [{"x":0,"y":-0.02},{"x":0.385,"y":-0.16},{"x":0.77,"y":-0.31},{"x":1.16,"y":-0.51},{"x":1.54,"y":-0.75},{"x":1.93,"y":-1.02},{"x":2.31,"y":-1.45},{"x":2.7,"y":-1.92},{"x":3.08,"y":-2.31},{"x":3.47,"y":-2.71},{"x":3.85,"y":-2.98},{"x":4.24,"y":-3.22},{"x":4.62,"y":-3.45},{"x":5.01,"y":-3.73},{"x":5.39,"y":-4.04},{"x":5.78,"y":-4.43},{"x":6.16,"y":-4.94},{"x":6.55,"y":-5.41},{"x":6.93,"y":-5.84},{"x":7.32,"y":-6.16},{"x":7.7,"y":-6.43},{"x":8.09,"y":-6.71},{"x":8.47,"y":-7.06},{"x":8.86,"y":-7.53},{"x":9.24,"y":-8},{"x":9.63,"y":-8.47},{"x":10.02,"y":-8.86},{"x":10.4,"y":-9.18},{"x":10.79,"y":-9.49},{"x":11.03,"y":-9.67}],
    "dT": [{"x":0,"y":0},{"x":0.3,"y":-0.19},{"x":0.5,"y":-0.31},{"x":0.75,"y":-0.44},{"x":0.77,"y":-0.4},{"x":0.79,"y":-0.47},{"x":1,"y":-0.62},{"x":1.04,"y":-0.6},{"x":1.06,"y":-0.7},{"x":1.3,"y":-0.92},{"x":1.5,"y":-1.09},{"x":1.54,"y":-1.06},{"x":1.56,"y":-1.16},{"x":1.8,"y":-1.37},{"x":2,"y":-1.55},{"x":2.3,"y":-1.83},{"x":2.54,"y":-2.05},{"x":2.56,"y":-1.82},{"x":2.58,"y":-2.08},{"x":2.8,"y":-2.28},{"x":3.1,"y":-2.61},{"x":3.5,"y":-2.95},{"x":3.85,"y":-3.25},{"x":4.3,"y":-3.64},{"x":4.62,"y":-3.92},{"x":4.9,"y":-4.16},{"x":5.1,"y":-4.34},{"x":5.12,"y":-4.53},{"x":5.14,"y":-4.37},{"x":5.39,"y":-4.59},{"x":5.7,"y":-4.86},{"x":6,"y":-5.12},{"x":6.01,"y":-5.29},{"x":6.03,"y":-5.14},{"x":6.16,"y":-5.25},{"x":6.5,"y":-5.56},{"x":6.93,"y":-5.96},{"x":7.3,"y":-6.3},{"x":7.7,"y":-6.67},{"x":8.1,"y":-7.03},{"x":8.47,"y":-7.37},{"x":8.85,"y":-7.74},{"x":9.24,"y":-8.12},{"x":9.6,"y":-8.48},{"x":10.02,"y":-8.9},{"x":10.4,"y":-9.25},{"x":10.79,"y":-9.61},{"x":11.06,"y":-9.92}],
    "dA": [{"x":0,"y":0},{"x":0.77,"y":-0.47},{"x":1.54,"y":-1.14},{"x":2.31,"y":-1.84},{"x":3.08,"y":-2.59},{"x":3.85,"y":-3.25},{"x":4.62,"y":-3.92},{"x":5.39,"y":-4.59},{"x":6.16,"y":-5.25},{"x":6.93,"y":-5.96},{"x":7.7,"y":-6.67},{"x":8.47,"y":-7.37},{"x":9.24,"y":-8.12},{"x":10.02,"y":-8.9},{"x":10.79,"y":-9.61},{"x":11.06,"y":-9.92}]
  },
  "columns": 2,
  "spacing": {"row": 376, "column": 402},
  "bounds": "flush",
  "resolve": {"scale": {"color": "independent"}},
  "concat": [
    {
      "width": 1302, "height": 992,
      "title": {"text": "(a) δ=0"},
      "layer": [
        {"data": {"name": "aT"}, "mark": {"type": "line", "strokeWidth": 3, "strokeJoin": "round", "clip": true},
         "encoding": {
           "x": {"field": "x", "type": "quantitative", "scale": {"domain": [0, 12], "nice": false, "zero": false}, "axis": {"title": "kΔx/β²", "format": "d", "values": [0, 2, 4, 6, 8, 10, 12]}},
           "y": {"field": "y", "type": "quantitative", "scale": {"domain": [-11, 0.93], "nice": false, "zero": false}, "axis": {"title": "Magnitude correlation ψ₁₂", "format": "d", "values": [-11, -10, -9, -8, -7, -6, -5, -4, -3, -2, -1, 0], "tickSize": {"condition": {"test": "datum.value % 5 === 0", "value": -19}, "value": -11}, "labelExpr": "datum.value === -5 ? '5' : (datum.value % 5 === 0 ? datum.label : '')"}},
           "color": {"datum": "Two-mic method", "type": "nominal", "scale": {"domain": ["Two-mic method", "Analytical"], "range": ["#3030ff", "#d00000"]},
             "legend": {"title": null, "orient": "none", "legendX": 690, "legendY": 28, "rowPadding": 9, "encode": {"symbols": {"update": {"strokeDash": {"signal": "datum.label === 'Analytical' ? [20, 6] : [1, 0]"}, "strokeWidth": {"signal": "datum.label === 'Analytical' ? 6 : 3"}}}}}}
         }},
        {"data": {"name": "aA"}, "mark": {"type": "line", "strokeWidth": 10, "strokeDash": [73, 25], "clip": true},
         "encoding": {"x": {"field": "x", "type": "quantitative"}, "y": {"field": "y", "type": "quantitative"}, "color": {"datum": "Analytical", "type": "nominal"}}}
      ]
    },
    {
      "width": 1302, "height": 992,
      "title": {"text": "(b) δ=1"},
      "layer": [
        {"data": {"name": "bT"}, "mark": {"type": "line", "strokeWidth": 3, "strokeJoin": "round", "clip": true},
         "encoding": {
           "x": {"field": "x", "type": "quantitative", "scale": {"domain": [0, 12], "nice": false, "zero": false}, "axis": {"title": "kΔx/β²", "format": "d", "values": [0, 2, 4, 6, 8, 10, 12]}},
           "y": {"field": "y", "type": "quantitative", "scale": {"domain": [-11, 0.93], "nice": false, "zero": false}, "axis": {"title": "Magnitude correlation ψ₁₂", "format": "d", "values": [-11, -10, -9, -8, -7, -6, -5, -4, -3, -2, -1, 0], "tickSize": {"condition": {"test": "datum.value % 5 === 0", "value": -19}, "value": -11}, "labelExpr": "datum.value % 5 === 0 ? datum.label : ''"}},
           "color": {"datum": "Two-mic method", "type": "nominal", "scale": {"domain": ["Two-mic method", "Analytical"], "range": ["#3030ff", "#d00000"]},
             "legend": {"title": null, "orient": "none", "legendX": 690, "legendY": 28, "rowPadding": 9, "encode": {"symbols": {"update": {"strokeDash": {"signal": "datum.label === 'Analytical' ? [20, 6] : [1, 0]"}, "strokeWidth": {"signal": "datum.label === 'Analytical' ? 6 : 3"}}}}}}
         }},
        {"data": {"name": "bA"}, "mark": {"type": "line", "strokeWidth": 8, "strokeDash": [36, 12], "clip": true},
         "encoding": {"x": {"field": "x", "type": "quantitative"}, "y": {"field": "y", "type": "quantitative"}, "color": {"datum": "Analytical", "type": "nominal"}}}
      ]
    },
    {
      "width": 1302, "height": 992,
      "title": {"text": "(c) δ=2"},
      "layer": [
        {"data": {"name": "cT"}, "mark": {"type": "line", "strokeWidth": 3, "strokeJoin": "round", "clip": true},
         "encoding": {
           "x": {"field": "x", "type": "quantitative", "scale": {"domain": [0, 12], "nice": false, "zero": false}, "axis": {"title": "kΔx/β²", "format": "d", "values": [0, 2, 4, 6, 8, 10, 12]}},
           "y": {"field": "y", "type": "quantitative", "scale": {"domain": [-11, 0.93], "nice": false, "zero": false}, "axis": {"title": "Magnitude correlation ψ₁₂", "format": "d", "values": [-11, -10, -9, -8, -7, -6, -5, -4, -3, -2, -1, 0], "tickSize": {"condition": {"test": "datum.value % 5 === 0", "value": -19}, "value": -11}, "labelExpr": "datum.value === -5 ? '5' : (datum.value % 5 === 0 ? datum.label : '')"}},
           "color": {"datum": "Two-mic method", "type": "nominal", "scale": {"domain": ["Two-mic method", "Analytical"], "range": ["#3030ff", "#d00000"]},
             "legend": {"title": null, "orient": "none", "legendX": 690, "legendY": 28, "rowPadding": 9, "encode": {"symbols": {"update": {"strokeDash": {"signal": "datum.label === 'Analytical' ? [20, 6] : [1, 0]"}, "strokeWidth": {"signal": "datum.label === 'Analytical' ? 6 : 3"}}}}}}
         }},
        {"data": {"name": "cA"}, "mark": {"type": "line", "strokeWidth": 7, "strokeDash": [30, 9], "clip": true},
         "encoding": {"x": {"field": "x", "type": "quantitative"}, "y": {"field": "y", "type": "quantitative"}, "color": {"datum": "Analytical", "type": "nominal"}}}
      ]
    },
    {
      "width": 1302, "height": 992,
      "title": {"text": "(d) δ=5"},
      "layer": [
        {"data": {"name": "dT"}, "mark": {"type": "line", "strokeWidth": 3, "strokeJoin": "round", "clip": true},
         "encoding": {
           "x": {"field": "x", "type": "quantitative", "scale": {"domain": [0, 12], "nice": false, "zero": false}, "axis": {"title": "kΔx/β²", "format": "d", "values": [0, 2, 4, 6, 8, 10, 12]}},
           "y": {"field": "y", "type": "quantitative", "scale": {"domain": [-11, 0.93], "nice": false, "zero": false}, "axis": {"title": "Magnitude correlation ψ₁₂", "format": "d", "values": [-11, -10, -9, -8, -7, -6, -5, -4, -3, -2, -1, 0], "tickSize": {"condition": {"test": "datum.value % 5 === 0", "value": -19}, "value": -11}, "labelExpr": "datum.value % 5 === 0 ? datum.label : ''"}},
           "color": {"datum": "Two-mic method", "type": "nominal", "scale": {"domain": ["Two-mic method", "Analytical"], "range": ["#3030ff", "#d00000"]},
             "legend": {"title": null, "orient": "none", "legendX": 690, "legendY": 28, "rowPadding": 9, "encode": {"symbols": {"update": {"strokeDash": {"signal": "datum.label === 'Analytical' ? [20, 6] : [1, 0]"}, "strokeWidth": {"signal": "datum.label === 'Analytical' ? 6 : 3"}}}}}}
         }},
        {"data": {"name": "dA"}, "mark": {"type": "line", "strokeWidth": 7, "strokeDash": [30, 9], "clip": true},
         "encoding": {"x": {"field": "x", "type": "quantitative"}, "y": {"field": "y", "type": "quantitative"}, "color": {"datum": "Analytical", "type": "nominal"}}}
      ]
    }
  ]
}
